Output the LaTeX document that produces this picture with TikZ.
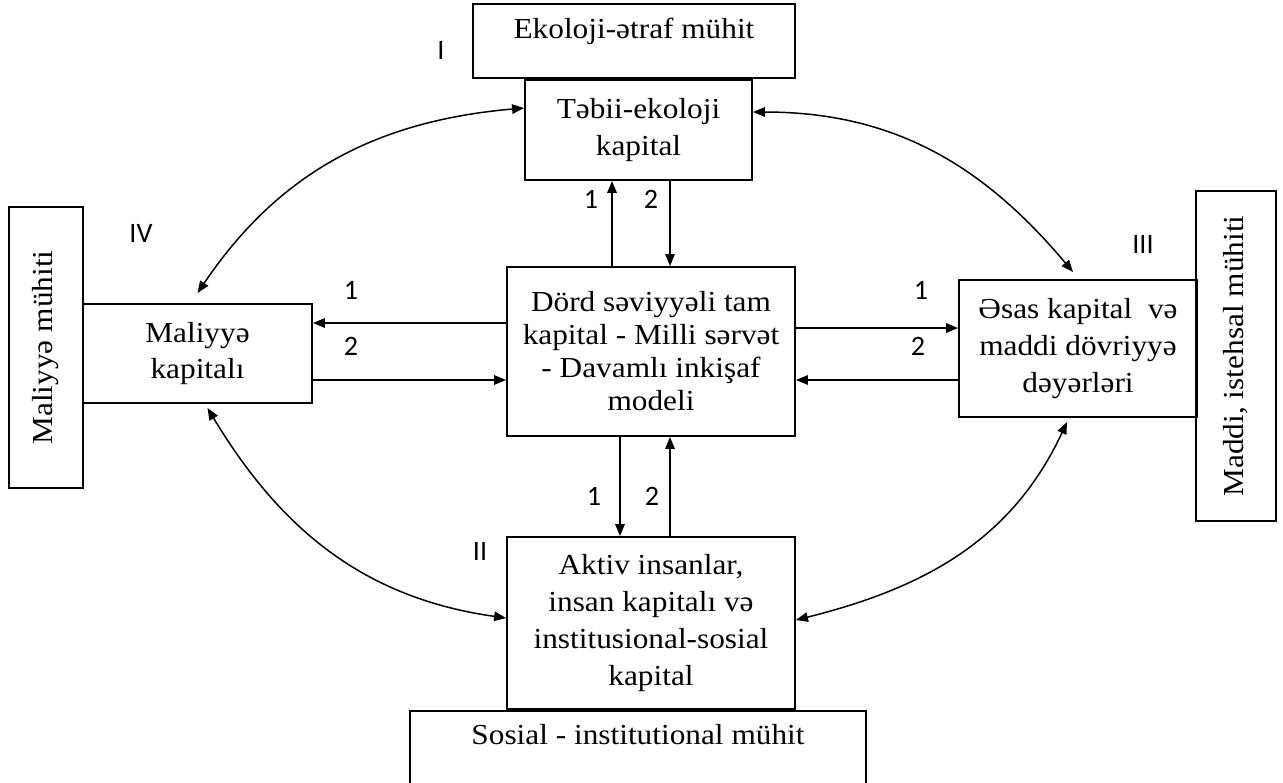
\documentclass[tikz,border=0pt]{standalone}
\usepackage{fontspec}
\setmainfont[FakeStretch=1.08]{Liberation Serif}
\newfontfamily\numfont{Carlito}
\usetikzlibrary{positioning, arrows.meta}

\tikzset{
  kapbox/.style={draw, line width=1.1pt, align=center, inner sep=0pt,
    font=\fontsize{16.5}{21}\selectfont},
  muhitbox/.style={kapbox, text height=0.68cm, text depth=0.8cm},
  num/.style={font=\numfont\fontsize{16}{18}\selectfont, inner sep=0pt},
  link/.style={->, line width=0.9pt},
  bidir/.style={<->, line width=0.85pt},
}

\begin{document}
\begin{tikzpicture}[x=0.02cm, y=-0.02cm, >={Triangle[length=0.24cm, width=0.19cm]}]
\useasboundingbox (0,0) rectangle (1283,782);

% kapital boxes
\node[kapbox, minimum width=5.76cm, minimum height=3.38cm, font=\fontsize{16.5}{18.8}\selectfont] (centre) at (651,351.5) {Dörd səviyyəli tam\\kapital - Milli sərvət\\- Davamlı inkişaf\\modeli};
\node[kapbox, minimum width=4.54cm, minimum height=2cm] (tabii) at (638.5,130) {Təbii-ekoloji\\kapital};
\node[kapbox, minimum width=4.58cm, minimum height=1.98cm] (maliyye) at (197.5,353.5) {Maliyyə\\kapitalı};
\node[kapbox, minimum width=4.76cm, minimum height=2.74cm] (asas) at (1078,348.5) {Əsas kapital\ \ və\\maddi dövriyyə\\dəyərləri};
\node[kapbox, minimum width=5.76cm, minimum height=3.44cm] (aktiv) at (651,623) {Aktiv insanlar,\\insan kapitalı və\\institusional-sosial\\kapital};

% muhit boxes
\node[muhitbox, minimum width=6.44cm, above=0pt of tabii, xshift=-0.09cm] (eko) {Ekoloji-ətraf mühit};
\node[muhitbox, minimum width=9.12cm, below=0pt of aktiv, xshift=-0.26cm] (sosial) {Sosial - institutional mühit};
\node[kapbox, rotate=90, minimum width=5.62cm, minimum height=1.48cm] (malmuhit) at (46,347.5) {Maliyyə mühiti};
\node[kapbox, rotate=90, minimum width=6.6cm, minimum height=1.6cm] (maddi) at (1236,356) {Maddi, istehsal mühiti};

% levels
\node[num] (lvlI) at (441,50) {I};
\node[num] (lvlII) at (480,551) {II};
\node[num] (lvlIII) at (1143,244) {III};
\node[num] (lvlIV) at (141,233) {IV};

% straight links
\draw[link] ([xshift=-0.78cm]centre.north) coordinate (t1) -- (t1 |- tabii.south);
\draw[link, <-] ([xshift=0.38cm]centre.north) coordinate (t2) -- (t2 |- tabii.south);
\draw[link] ([yshift=0.57cm]centre.west) coordinate (l1) -- (l1 -| maliyye.east);
\draw[link, <-] ([yshift=-0.57cm]centre.west) coordinate (l2) -- (l2 -| maliyye.east);
\draw[link] ([yshift=0.47cm]centre.east) coordinate (r1) -- (r1 -| asas.west);
\draw[link, <-] ([yshift=-0.57cm]centre.east) coordinate (r2) -- (r2 -| asas.west);
\draw[link] ([xshift=-0.62cm]centre.south) coordinate (b1) -- (b1 |- aktiv.north);
\draw[link, <-] ([xshift=0.38cm]centre.south) coordinate (b2) -- (b2 |- aktiv.north);

\node[num] (nt1) at (591,199) {1};
\node[num] (nt2) at (651,199) {2};
\node[num] (nl1) at (351,290) {1};
\node[num] (nl2) at (351,346) {2};
\node[num] (nr1) at (921,290) {1};
\node[num] (nr2) at (918,346) {2};
\node[num] (nb1) at (594,496) {1};
\node[num] (nb2) at (652,496) {2};

% curved links
\draw[bidir] ([yshift=0.44cm]tabii.west) to[out=185, in=56] ([yshift=0.2cm]maliyye.north);
\draw[bidir] ([yshift=0.36cm]tabii.east) to[out=0, in=130] ([xshift=-0.1cm, yshift=0.14cm]asas.north);
\draw[bidir] ([xshift=0.2cm, yshift=-0.08cm]maliyye.south) to[out=-59, in=172] ([yshift=0.1cm]aktiv.west);
\draw[bidir] ([yshift=0.06cm]aktiv.east) to[out=14, in=245] ([xshift=-0.22cm, yshift=-0.08cm]asas.south);

\end{tikzpicture}
\end{document}
